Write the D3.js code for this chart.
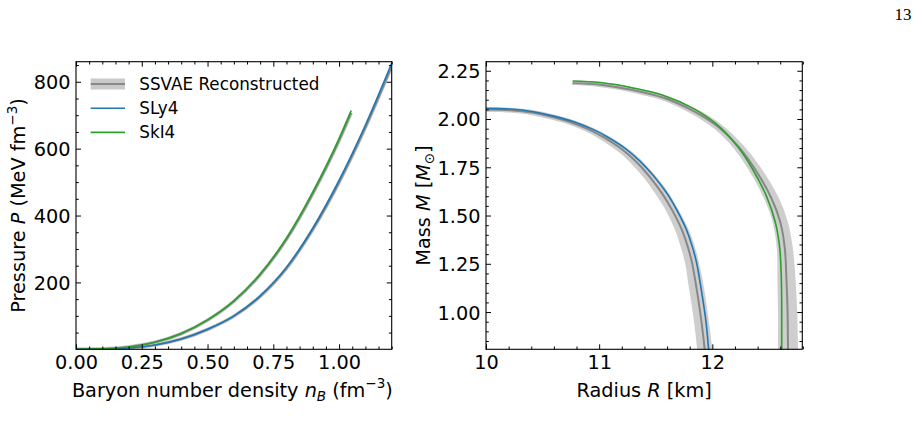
<!DOCTYPE html>
<html>
<head>
<meta charset="utf-8">
<script src="https://cdn.jsdelivr.net/npm/d3@7"></script>
<style>
  body { margin: 0; background: #fff; }
  svg { display: block; }
</style>
</head>
<body>
<div id="chart"></div>
<script>
// ---- Data: left panel, EOS P(n_B) ----
const nB = [0.00, 0.10, 0.20, 0.30, 0.40, 0.50, 0.60, 0.70, 0.80, 0.90, 1.00, 1.10, 1.20];
const pSLy4 = [0, 0.8, 4, 13, 31, 60, 100, 160, 245, 362, 505, 670, 855];
const ssvaePSLy4 = [0, 0.8, 3.9, 12.8, 30.6, 59.2, 98.8, 158, 242, 358, 499, 663, 846];
const nBSkI4 = [0.00, 0.10, 0.20, 0.30, 0.40, 0.50, 0.60, 0.70, 0.80, 0.90, 1.00, 1.046];
const pSkI4 = [0, 1.2, 7, 21, 47, 88, 145, 225, 332, 470, 630, 714];
const ssvaePSkI4 = [0, 1.2, 6.9, 20.8, 46.5, 87, 143.5, 222.7, 328.7, 465, 624, 707];

// ---- Data: right panel, M(R) ----
const rSLy4 = [9.99, 10.21, 10.42, 10.60, 10.77, 10.95, 11.07, 11.24, 11.36, 11.48, 11.60, 11.685, 11.77, 11.82, 11.86, 11.89, 11.92, 11.945, 11.965, 11.975];
const mSLy4 = [2.055, 2.052, 2.038, 2.015, 1.987, 1.945, 1.908, 1.843, 1.782, 1.706, 1.614, 1.530, 1.428, 1.345, 1.258, 1.160, 1.050, 0.945, 0.820, 0.75];
const ssvaeRSLy4 = [9.99, 10.21, 10.42, 10.595, 10.76, 10.935, 11.05, 11.215, 11.33, 11.445, 11.56, 11.645, 11.73, 11.78, 11.82, 11.85, 11.88, 11.905, 11.93, 11.94];
const ssvaeMSLy4 = [2.049, 2.046, 2.032, 2.009, 1.981, 1.939, 1.902, 1.837, 1.777, 1.702, 1.611, 1.528, 1.427, 1.344, 1.257, 1.160, 1.050, 0.945, 0.820, 0.75];
const bandDRSLy4 = [0.01, 0.01, 0.015, 0.02, 0.02, 0.025, 0.03, 0.035, 0.04, 0.045, 0.05, 0.05, 0.055, 0.06, 0.06, 0.065, 0.065, 0.065, 0.066, 0.066];
const bandDMSLy4 = [0.012, 0.012, 0.012, 0.012, 0.012, 0.012, 0.012, 0.012, 0.012, 0.01, 0.01, 0.008, 0.008, 0.006, 0.005, 0.004, 0.004, 0.004, 0.004, 0.004];

const rSkI4 = [10.765, 11.01, 11.30, 11.57, 11.83, 12.04, 12.22, 12.36, 12.48, 12.555, 12.595, 12.61, 12.613, 12.613, 12.613];
const mSkI4 = [2.197, 2.189, 2.161, 2.122, 2.055, 1.972, 1.860, 1.736, 1.598, 1.469, 1.335, 1.167, 1.0, 0.85, 0.75];
const ssvaeRSkI4 = [10.765, 11.01, 11.30, 11.57, 11.83, 12.05, 12.24, 12.39, 12.52, 12.60, 12.64, 12.655, 12.665, 12.668, 12.67];
const ssvaeMSkI4 = [2.186, 2.178, 2.150, 2.110, 2.042, 1.960, 1.850, 1.728, 1.592, 1.466, 1.333, 1.167, 1.0, 0.85, 0.75];
const bandDRSkI4 = [0.01, 0.01, 0.015, 0.02, 0.025, 0.03, 0.04, 0.05, 0.06, 0.065, 0.07, 0.08, 0.085, 0.088, 0.088];
const bandDMSkI4 = [0.01, 0.012, 0.012, 0.012, 0.012, 0.012, 0.01, 0.01, 0.008, 0.006, 0.005, 0.004, 0.004, 0.004, 0.004];

// ---- Ticks ----
const xTicksLeft = [0, 0.25, 0.5, 0.75, 1.0];
const yTicksLeft = [200, 400, 600, 800];
const xTicksRight = [10, 11, 12];
const yTicksRight = [1.00, 1.25, 1.50, 1.75, 2.00, 2.25];
const legendLabels = ['SSVAE Reconstructed', 'SLy4', 'SkI4'];

// Config
const width = 919;
const height = 439;
const blue = '#1f77b4';
const green = '#2ca02c';
const bandGray = '#c9c9c9';
const meanGray = '#888888';
const font = "'DejaVu Sans', sans-serif";
const fontSize = 19.3;
const plotTop = 61.7, plotBottom = 349.3;

const xL = d3.scaleLinear().domain([0, 1.2]).range([76, 391.7]);
const yL = d3.scaleLinear().domain([0, 860]).range([plotBottom, plotTop]);
const xR = d3.scaleLinear().domain([10, 12.795]).range([486, 802.3]);
const yR = d3.scaleLinear().domain([0.807, 2.297]).range([plotBottom, plotTop]);

const svg = d3.select('#chart').append('svg')
  .attr('width', width)
  .attr('height', height);

// Page number
svg.append('text')
  .attr('x', 911.5)
  .attr('y', 20)
  .attr('text-anchor', 'end')
  .attr('font-family', "'Liberation Serif', serif")
  .attr('font-size', 17)
  .text('13');

// Clip paths
const defs = svg.append('defs');
[['clipL', xL, yL], ['clipR', xR, yR]].forEach(([id, x, y]) => {
  defs.append('clipPath').attr('id', id)
    .append('rect')
    .attr('x', x.range()[0])
    .attr('y', y.range()[1])
    .attr('width', x.range()[1] - x.range()[0])
    .attr('height', y.range()[0] - y.range()[1]);
});

// ---- Left panel curves ----
const gL = svg.append('g').attr('clip-path', 'url(#clipL)');
const lineL = (ns, ps) => d3.line()
  .curve(d3.curveMonotoneX)
  .x((d, i) => xL(ns[i]))
  .y((d, i) => yL(ps[i]))(ns);

[[nB, ssvaePSLy4], [nBSkI4, ssvaePSkI4]].forEach(([ns, ps]) => {
  gL.append('path').attr('d', lineL(ns, ps))
    .attr('fill', 'none').attr('stroke', bandGray).attr('stroke-width', 3.6);
  gL.append('path').attr('d', lineL(ns, ps))
    .attr('fill', 'none').attr('stroke', meanGray).attr('stroke-width', 2);
});
gL.append('path').attr('d', lineL(nB, pSLy4))
  .attr('fill', 'none').attr('stroke', blue).attr('stroke-width', 1.6);
gL.append('path').attr('d', lineL(nBSkI4, pSkI4))
  .attr('fill', 'none').attr('stroke', green).attr('stroke-width', 1.6);

// ---- Right panel curves ----
const gR = svg.append('g').attr('clip-path', 'url(#clipR)');
const curve = d3.curveCatmullRom.alpha(0.5);

const band = (rs, ms, dr, dm) => d3.area()
  .curve(curve)
  .x0((d, i) => xR(rs[i] - dr[i]))
  .y0((d, i) => yR(ms[i] - dm[i]))
  .x1((d, i) => xR(rs[i] + dr[i]))
  .y1((d, i) => yR(ms[i] + dm[i]))(rs);

const lineR = (rs, ms) => d3.line()
  .curve(curve)
  .x((d, i) => xR(rs[i]))
  .y((d, i) => yR(ms[i]))(rs);

gR.append('path').attr('d', band(ssvaeRSLy4, ssvaeMSLy4, bandDRSLy4, bandDMSLy4))
  .attr('fill', bandGray).attr('opacity', 0.9);
gR.append('path').attr('d', band(ssvaeRSkI4, ssvaeMSkI4, bandDRSkI4, bandDMSkI4))
  .attr('fill', bandGray).attr('opacity', 0.9);
gR.append('path').attr('d', lineR(ssvaeRSLy4, ssvaeMSLy4))
  .attr('fill', 'none').attr('stroke', meanGray).attr('stroke-width', 2);
gR.append('path').attr('d', lineR(ssvaeRSkI4, ssvaeMSkI4))
  .attr('fill', 'none').attr('stroke', meanGray).attr('stroke-width', 2);
gR.append('path').attr('d', lineR(rSLy4, mSLy4))
  .attr('fill', 'none').attr('stroke', blue).attr('stroke-width', 1.6);
gR.append('path').attr('d', lineR(rSkI4, mSkI4))
  .attr('fill', 'none').attr('stroke', green).attr('stroke-width', 1.6);

// ---- Axes ----
function drawAxes(x, y, xMajor, xMinor, yMajor, yMinor, xFmt, yFmt) {
  const [x0, x1] = x.range();
  const [y1, y0] = y.range();
  const style = g => g
    .attr('font-family', font)
    .attr('font-size', fontSize)
    .call(g => g.select('.domain').remove())
    .call(g => g.selectAll('.tick line').attr('stroke-width', 1));

  // X-Axis (bottom) with labels
  svg.append('g')
    .attr('transform', `translate(0,${y1})`)
    .call(d3.axisBottom(x).tickValues(xMajor).tickSize(-5).tickFormat(xFmt))
    .call(style)
    .call(g => g.selectAll('text').attr('y', 19.4).attr('dy', null).attr('fill', '#000'));
  svg.append('g')
    .attr('transform', `translate(0,${y1})`)
    .call(d3.axisBottom(x).tickValues(xMinor).tickSize(-2.8).tickFormat(''))
    .call(style);
  // top
  svg.append('g')
    .attr('transform', `translate(0,${y0})`)
    .call(d3.axisTop(x).tickValues(xMajor).tickSize(-5).tickFormat(''))
    .call(style);
  svg.append('g')
    .attr('transform', `translate(0,${y0})`)
    .call(d3.axisTop(x).tickValues(xMinor).tickSize(-2.8).tickFormat(''))
    .call(style);

  // Y-Axis (left) with labels
  svg.append('g')
    .attr('transform', `translate(${x0},0)`)
    .call(d3.axisLeft(y).tickValues(yMajor).tickSize(-5).tickFormat(yFmt))
    .call(style)
    .call(g => g.selectAll('text').attr('x', -5.5).attr('dy', '0.36em').attr('fill', '#000'));
  svg.append('g')
    .attr('transform', `translate(${x0},0)`)
    .call(d3.axisLeft(y).tickValues(yMinor).tickSize(-2.8).tickFormat(''))
    .call(style);
  // right
  svg.append('g')
    .attr('transform', `translate(${x1},0)`)
    .call(d3.axisRight(y).tickValues(yMajor).tickSize(-5).tickFormat(''))
    .call(style);
  svg.append('g')
    .attr('transform', `translate(${x1},0)`)
    .call(d3.axisRight(y).tickValues(yMinor).tickSize(-2.8).tickFormat(''))
    .call(style);

  // Frame
  svg.append('rect')
    .attr('x', x0).attr('y', y0)
    .attr('width', x1 - x0).attr('height', y1 - y0)
    .attr('fill', 'none')
    .attr('stroke', '#000')
    .attr('stroke-width', 1.1);
}

const minorOf = (lo, hi, step, majors) => d3.range(lo, hi + step / 2, step)
  .map(v => +v.toFixed(4))
  .filter(v => !majors.some(m => Math.abs(m - v) < 1e-6));

drawAxes(xL, yL,
  xTicksLeft, minorOf(0, 1.2, 0.05, xTicksLeft),
  yTicksLeft, minorOf(50, 850, 50, yTicksLeft),
  d3.format('.2f'), d3.format('d'));
drawAxes(xR, yR,
  xTicksRight, minorOf(10, 12.8, 0.2, xTicksRight),
  yTicksRight, minorOf(0.85, 2.25, 0.05, yTicksRight),
  d3.format('d'), d3.format('.2f'));

// ---- Axis labels ----
const label = (x, y, rotate) => svg.append('text')
  .attr('font-family', font)
  .attr('font-size', fontSize)
  .attr('text-anchor', 'middle')
  .attr('transform', rotate ? `translate(${x},${y}) rotate(-90)` : `translate(${x},${y})`);

// Left x label
const lx = label((76 + 391.7) / 2 - 1.5, 396.5, false);
lx.append('tspan').text('Baryon number density ');
lx.append('tspan').attr('font-style', 'italic').text('n');
lx.append('tspan').attr('font-style', 'italic').attr('font-size', fontSize * 0.7).attr('dy', '0.3em').text('B');
lx.append('tspan').attr('dy', '-0.21em').text(' (fm');
lx.append('tspan').attr('font-size', fontSize * 0.7).attr('dy', '-0.6em').text('\u22123');
lx.append('tspan').attr('dy', '0.42em').text(')');

// Left y label
const ly = label(25, (plotTop + plotBottom) / 2, true);
ly.append('tspan').text('Pressure ');
ly.append('tspan').attr('font-style', 'italic').text('P');
ly.append('tspan').text(' (MeV fm');
ly.append('tspan').attr('font-size', fontSize * 0.7).attr('dy', '-0.6em').text('\u22123');
ly.append('tspan').attr('dy', '0.42em').text(')');

// Right x label
const rx = label((486 + 802.3) / 2, 396.5, false);
rx.append('tspan').text('Radius ');
rx.append('tspan').attr('font-style', 'italic').text('R');
rx.append('tspan').text(' [km]');

// Right y label
const ry = label(430, (plotTop + plotBottom) / 2, true);
ry.append('tspan').text('Mass ');
ry.append('tspan').attr('font-style', 'italic').text('M');
ry.append('tspan').text(' [');
ry.append('tspan').attr('font-style', 'italic').text('M');
ry.append('tspan').attr('font-size', fontSize * 0.7).attr('dy', '0.3em').text('\u2299');
ry.append('tspan').attr('dy', '-0.21em').text(']');

// ---- Legend ----
const legend = svg.append('g').attr('transform', 'translate(90.7,84)');
const rowH = 24.2;
legendLabels.forEach((name, i) => {
  const row = legend.append('g').attr('transform', `translate(0,${i * rowH})`);
  if (i === 0) {
    row.append('rect')
      .attr('x', 0).attr('y', -5.5)
      .attr('width', 34.3).attr('height', 11)
      .attr('fill', bandGray);
    row.append('line')
      .attr('x1', 0).attr('x2', 34.3)
      .attr('stroke', meanGray).attr('stroke-width', 2);
  } else {
    row.append('line')
      .attr('x1', 0).attr('x2', 34.3)
      .attr('stroke', i === 1 ? blue : green).attr('stroke-width', 1.6);
  }
  row.append('text')
    .attr('x', 48.6)
    .attr('y', 6)
    .attr('font-family', font)
    .attr('font-size', 16.8)
    .text(name);
});
</script>
</body>
</html>
